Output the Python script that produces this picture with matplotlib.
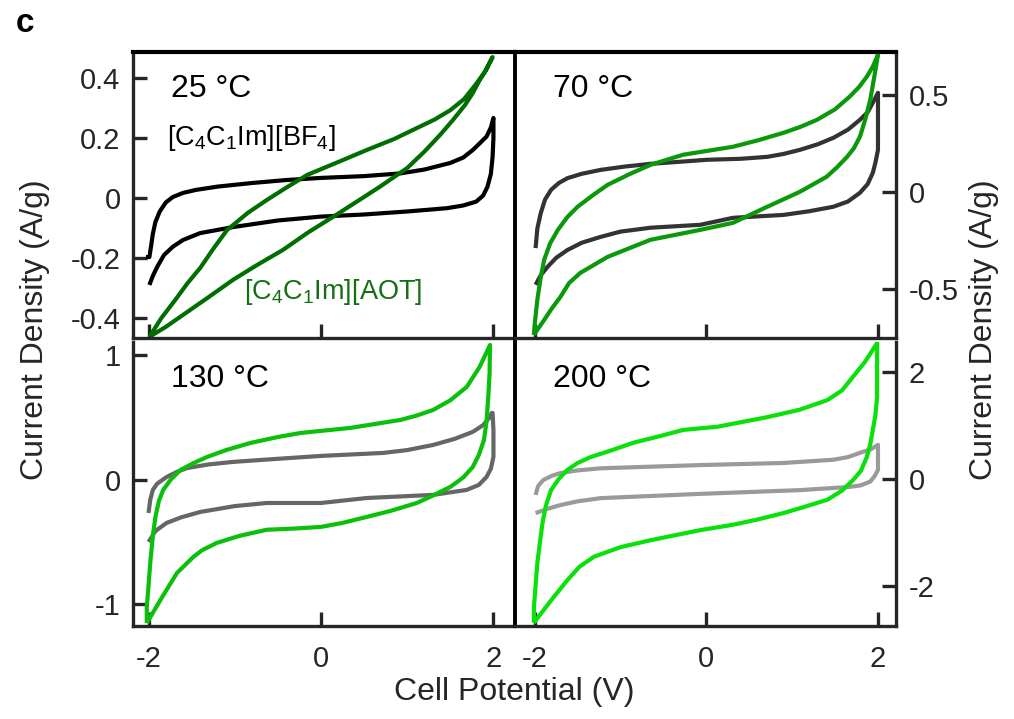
import numpy as np
import matplotlib.pyplot as plt

plt.rcParams['font.family'] = ['Liberation Sans', 'DejaVu Sans']
plt.rcParams['mathtext.fontset'] = 'custom'
plt.rcParams['mathtext.rm'] = 'Liberation Sans'
plt.rcParams['mathtext.it'] = 'Liberation Sans'

# --------------------------------------------------
# CV data: forward (upper) then reverse (lower) branch
# --------------------------------------------------
# 25 C
bf4_25_x = [-2.03, -1.99, -1.97, -1.95, -1.92, -1.87, -1.80, -1.72, -1.60, -1.45, -1.2, -0.8, -0.4, 0.0,
            0.5, 0.92, 1.2, 1.5, 1.65, 1.76, 1.85, 1.92, 1.97, 2.0,
            2.0, 1.99, 1.97, 1.93, 1.88, 1.80, 1.65, 1.46, 1.0, 0.5, 0.0, -0.5, -1.02, -1.40, -1.60,
            -1.72, -1.82, -1.90, -1.95, -1.99]
bf4_25_y = [-0.197, -0.197, -0.16, -0.12, -0.08, -0.045, -0.015, 0.003, 0.017, 0.027, 0.038, 0.05, 0.06, 0.067,
            0.073, 0.082, 0.095, 0.117, 0.135, 0.16, 0.185, 0.205, 0.235, 0.267,
            0.2, 0.137, 0.08, 0.037, 0.008, -0.012, -0.025, -0.034, -0.045, -0.055, -0.062, -0.075, -0.097, -0.117, -0.14,
            -0.163, -0.19, -0.23, -0.26, -0.29]
aot_25_x = [-1.99, -1.85, -1.69, -1.55, -1.40, -1.25, -1.09, -0.85, -0.63, -0.4, -0.16, 0.2, 0.53, 0.85,
            1.11, 1.32, 1.50, 1.66, 1.79, 1.90, 1.99,
            1.92, 1.84, 1.76, 1.67, 1.53, 1.38, 1.2, 1.0, 0.68, 0.4, 0.14, -0.15, -0.44, -0.75, -1.02,
            -1.3, -1.60, -1.8, -1.99]
aot_25_y = [-0.463, -0.40, -0.34, -0.285, -0.233, -0.17, -0.107, -0.05, -0.007, 0.035, 0.077, 0.12, 0.16, 0.197,
            0.233, 0.262, 0.293, 0.33, 0.377, 0.42, 0.47,
            0.43, 0.393, 0.35, 0.31, 0.26, 0.21, 0.155, 0.10, 0.037, -0.015, -0.063, -0.115, -0.173, -0.225, -0.273,
            -0.33, -0.39, -0.43, -0.463]

# 70 C
bf4_70_x = [-1.99, -1.97, -1.93, -1.88, -1.81, -1.72, -1.62, -1.45, -1.23, -0.95, -0.65, -0.3, 0.01, 0.4,
            0.71, 0.9, 1.09, 1.3, 1.48, 1.65, 1.79, 1.88, 1.94, 2.0,
            2.0, 2.0, 1.97, 1.94, 1.88, 1.79, 1.65, 1.48, 1.2, 0.90, 0.31, -0.07, -0.65, -1.0, -1.23,
            -1.45, -1.62, -1.75, -1.85, -1.93, -1.99]
bf4_70_y = [-0.29, -0.19, -0.11, -0.04, 0.01, 0.045, 0.07, 0.093, 0.113, 0.13, 0.144, 0.155, 0.165, 0.17,
            0.18, 0.195, 0.216, 0.245, 0.278, 0.32, 0.371, 0.41, 0.459, 0.51,
            0.35, 0.216, 0.15, 0.098, 0.04, -0.005, -0.05, -0.077, -0.1, -0.119, -0.134, -0.17, -0.185, -0.205, -0.232,
            -0.262, -0.30, -0.34, -0.386, -0.43, -0.479]
aot_70_x = [-2.01, -2.0, -1.97, -1.93, -1.89, -1.82, -1.73, -1.62, -1.50, -1.33, -1.15, -0.9, -0.65, -0.27,
            0.0, 0.31, 0.6, 0.90, 1.1, 1.29, 1.5, 1.67, 1.78, 1.87, 1.94, 2.0,
            1.96, 1.91, 1.85, 1.79, 1.72, 1.64, 1.52, 1.40, 1.09, 0.71, 0.31, -0.07, -0.65, -1.15, -1.47,
            -1.60, -1.70, -1.80, -1.89, -2.01]
aot_70_y = [-0.737, -0.68, -0.557, -0.44, -0.35, -0.265, -0.196, -0.13, -0.077, -0.02, 0.036, 0.09, 0.139, 0.191,
            0.21, 0.232, 0.265, 0.304, 0.335, 0.371, 0.425, 0.49, 0.54, 0.593, 0.645, 0.706,
            0.6, 0.474, 0.37, 0.284, 0.225, 0.18, 0.125, 0.077, 0.0, -0.077, -0.16, -0.196, -0.247, -0.335, -0.418,
            -0.47, -0.541, -0.6, -0.66, -0.737]

# 130 C
bf4_130_x = [-2.0, -1.98, -1.95, -1.90, -1.79, -1.67, -1.55, -1.3, -1.02, -0.5, 0.0, 0.72, 1.0, 1.30,
             1.55, 1.76, 1.88, 1.96, 1.98,
             1.99, 2.0, 2.0, 1.97, 1.92, 1.83, 1.69, 1.30, 0.53, 0.0, -0.63, -1.0, -1.40, -1.62,
             -1.79, -1.92, -2.0]
bf4_130_y = [-0.265, -0.16, -0.08, -0.03, 0.024, 0.065, 0.096, 0.125, 0.145, 0.17, 0.193, 0.217, 0.24, 0.281,
             0.33, 0.386, 0.44, 0.506, 0.538,
             0.538, 0.4, 0.185, 0.09, 0.024, -0.04, -0.08, -0.12, -0.145, -0.185, -0.185, -0.21, -0.257, -0.3,
             -0.345, -0.41, -0.498]
aot_130_x = [-2.02, -2.02, -2.0, -1.98, -1.95, -1.92, -1.88, -1.83, -1.74, -1.63, -1.48, -1.32, -1.1, -0.82,
             -0.5, -0.24, 0.34, 0.92, 1.1, 1.30, 1.5, 1.69, 1.84, 1.96,
             1.955, 1.94, 1.92, 1.89, 1.83, 1.76, 1.65, 1.50, 1.3, 1.11, 0.8, 0.53, 0.25, 0.0, -0.3,
             -0.63, -0.95, -1.21, -1.38, -1.48, -1.67, -1.85, -2.02]
aot_130_y = [-1.149, -1.02, -0.85, -0.667, -0.45, -0.297, -0.17, -0.08, 0.005, 0.08, 0.135, 0.185, 0.24, 0.297,
             0.345, 0.377, 0.418, 0.482, 0.515, 0.562, 0.64, 0.747, 0.908, 1.084,
             0.85, 0.667, 0.47, 0.321, 0.2, 0.104, 0.02, -0.056, -0.125, -0.185, -0.25, -0.297, -0.345, -0.377, -0.39,
             -0.40, -0.45, -0.506, -0.565, -0.618, -0.747, -0.95, -1.149]

# 200 C
bf4_200_x = [-1.99, -1.96, -1.90, -1.80, -1.70, -1.5, -1.23, -0.07, 0.90, 1.48, 1.65, 1.79, 1.92, 2.0,
             2.0, 2.0, 1.96, 1.91, 1.80, 1.67, 1.09, -0.07, -1.23, -1.5, -1.70, -1.85, -1.99]
bf4_200_y = [-0.30, -0.13, -0.02, 0.06, 0.11, 0.16, 0.20, 0.26, 0.30, 0.36, 0.41, 0.49, 0.56, 0.64,
             0.4, 0.17, 0.05, -0.05, -0.12, -0.15, -0.21, -0.28, -0.36, -0.42, -0.49, -0.56, -0.64]
aot_200_x = [-2.01, -2.01, -1.99, -1.97, -1.94, -1.91, -1.87, -1.81, -1.72, -1.62, -1.5, -1.35, -1.1, -0.85,
             -0.55, -0.27, 0.13, 0.71, 1.09, 1.41, 1.58, 1.71, 1.85, 1.99,
             1.99, 1.99, 1.97, 1.94, 1.91, 1.87, 1.80, 1.71, 1.58, 1.41, 1.15, 0.90, 0.6, 0.31, -0.07,
             -0.65, -1.0, -1.31, -1.48, -1.62, -1.82, -2.01]
aot_200_y = [-2.70, -2.42, -2.0, -1.58, -1.2, -0.83, -0.5, -0.21, 0.0, 0.17, 0.3, 0.41, 0.54, 0.68,
             0.8, 0.92, 0.98, 1.16, 1.30, 1.48, 1.66, 1.92, 2.2, 2.55,
             2.0, 1.54, 1.2, 0.92, 0.65, 0.41, 0.15, -0.02, -0.22, -0.39, -0.52, -0.64, -0.76, -0.86, -0.96,
             -1.15, -1.28, -1.46, -1.65, -1.90, -2.3, -2.70]

temps = ['25 °C', '70 °C', '130 °C', '200 °C']
bf4_colors = ['#000000', '#333333', '#666666', '#9a9a9a']
aot_colors = ['#006e00', '#0a990a', '#0ac00a', '#0ae00a']
x_ticks = [-2, 0, 2]
y_ticks = [[-0.4, -0.2, 0, 0.2, 0.4], [-0.5, 0, 0.5], [-1, 0, 1], [-2, 0, 2]]
y_ticklabels = [['-0.4', '-0.2', '0', '0.2', '0.4'], ['-0.5', '0', '0.5'], ['-1', '0', '1'], ['-2', '0', '2']]
y_limits = [(-0.467, 0.487), (-0.753, 0.72), (-1.173, 1.108), (-2.76, 2.57)]

bf4 = [(bf4_25_x, bf4_25_y), (bf4_70_x, bf4_70_y), (bf4_130_x, bf4_130_y), (bf4_200_x, bf4_200_y)]
aot = [(aot_25_x, aot_25_y), (aot_70_x, aot_70_y), (aot_130_x, aot_130_y), (aot_200_x, aot_200_y)]

# --------------------------------------------------
# Layout (pixel boxes on a 1014x719 canvas)
# --------------------------------------------------
W, H = 1014, 719
fig = plt.figure(figsize=(W / 100, H / 100), dpi=100)

def box(x0, x1, y0, y1):
    return [x0 / W, 1 - y1 / H, (x1 - x0) / W, (y1 - y0) / H]

boxes = [box(133, 515, 52, 338), box(515, 896, 52, 338),
         box(133, 515, 342, 626), box(515, 896, 342, 626)]
x_limits = [(-2.18, 2.25), (-2.23, 2.21), (-2.18, 2.25), (-2.23, 2.21)]

spine_col = '#262626'

for i in range(4):
    ax = fig.add_axes(boxes[i])
    right = i % 2 == 1
    top = i < 2

    ax.plot(bf4[i][0], bf4[i][1], color=bf4_colors[i], lw=3,
            solid_joinstyle='round', solid_capstyle='butt')
    ax.plot(aot[i][0], aot[i][1], color=aot_colors[i], lw=3,
            solid_joinstyle='round', solid_capstyle='butt')

    ax.set_xlim(*x_limits[i])
    ax.set_ylim(*y_limits[i])
    ax.set_xticks(x_ticks)
    ax.set_yticks(y_ticks[i])
    ax.set_yticklabels(y_ticklabels[i])
    if top:
        ax.set_xticklabels([])
    else:
        ax.set_xticklabels(['-2', '0', '2'])

    for s in ax.spines.values():
        s.set_linewidth(2.4)
        s.set_color(spine_col)
    ax.spines['top'].set_visible(top)
    ax.spines['top'].set_color('black')
    ax.spines['top'].set_linewidth(3)
    if right:
        ax.spines['left'].set_color('black')
        ax.spines['left'].set_linewidth(2.8)
        ax.yaxis.tick_right()
    else:
        ax.spines['right'].set_visible(False)

    ax.tick_params(axis='both', direction='in', length=10, width=2.4, color=spine_col,
                   labelsize=21, labelcolor='#262626')
    ax.tick_params(axis='y', pad=9)
    ax.tick_params(axis='x', pad=14)
    if right:
        ax.tick_params(axis='y', left=False, right=True, labelleft=False, labelright=True)

    ax.text(0.1, 0.87, temps[i], transform=ax.transAxes, fontsize=23, va='center', ha='left')

    if i == 0:
        ax.text(0.09, 0.7, r'[C$_4$C$_1$Im][BF$_4$]', transform=ax.transAxes,
                fontsize=19.5, va='center', ha='left')
        ax.text(0.29, 0.16, r'[C$_4$C$_1$Im][AOT]', transform=ax.transAxes,
                fontsize=19.5, va='center', ha='left', color='#137013')

fig.text(35 / W, 1 - 330 / H, 'Current Density (A/g)', rotation=90, fontsize=23,
         ha='center', va='center', color='#262626')
fig.text(984 / W, 1 - 330 / H, 'Current Density (A/g)', rotation=90, fontsize=23,
         ha='center', va='center', color='#262626')
fig.text(514 / W, 1 - 692 / H, 'Cell Potential (V)', fontsize=23,
         ha='center', va='center', color='#262626')
fig.text(25 / W, 1 - 24 / H, 'c', fontsize=24, fontweight='bold', ha='center', va='center')

fig.savefig('out.png', dpi=100)
